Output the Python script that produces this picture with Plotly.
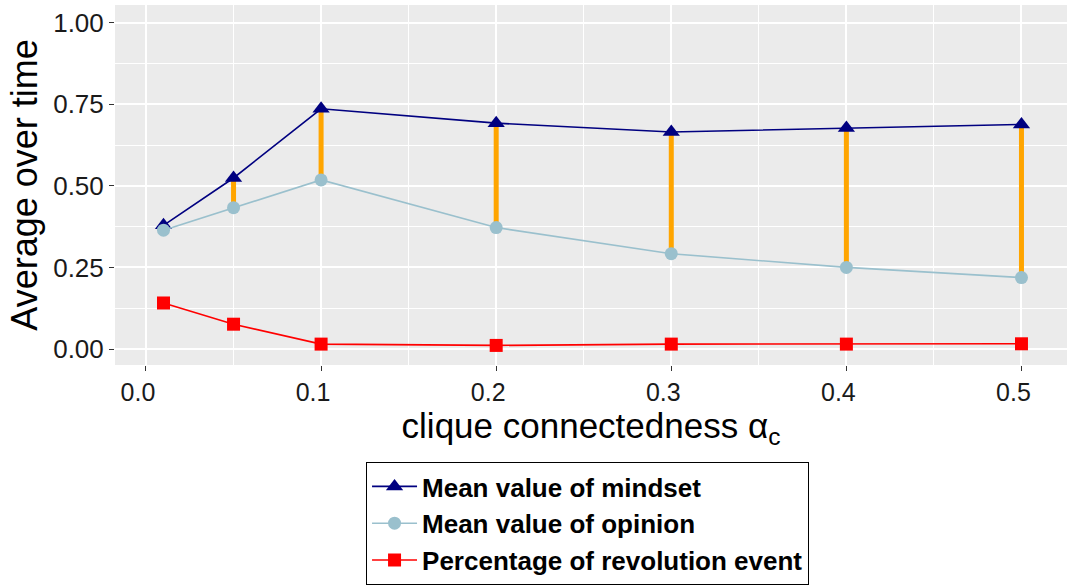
import plotly.graph_objects as go

alpha_c = [0.01, 0.05, 0.1, 0.2, 0.3, 0.4, 0.5]
mindset = [0.379, 0.524, 0.736, 0.692, 0.665, 0.677, 0.688]
opinion = [0.364, 0.433, 0.518, 0.372, 0.292, 0.250, 0.219]
revolution = [0.141, 0.076, 0.015, 0.011, 0.015, 0.015, 0.016]

x_ticks = [0.0, 0.1, 0.2, 0.3, 0.4, 0.5]
y_ticks = [0.0, 0.25, 0.5, 0.75, 1.0]

fig = go.Figure()

# orange gap segments between opinion and mindset
seg_x, seg_y = [], []
for xv, lo, hi in zip(alpha_c, opinion, mindset):
    seg_x += [xv, xv, None]
    seg_y += [lo, hi, None]
fig.add_trace(go.Scatter(x=seg_x, y=seg_y, mode="lines",
                         line=dict(color="#FFA500", width=5),
                         showlegend=False, hoverinfo="skip"))

fig.add_trace(go.Scatter(x=alpha_c, y=mindset, mode="lines+markers",
                         name="<b>Mean value of mindset</b>",
                         line=dict(color="#000080", width=1.6),
                         marker=dict(symbol="triangle-up", size=15, color="#000080")))
fig.add_trace(go.Scatter(x=alpha_c, y=opinion, mode="lines+markers",
                         name="<b>Mean value of opinion</b>",
                         line=dict(color="#9AC0CD", width=1.6),
                         marker=dict(symbol="circle", size=13, color="#9AC0CD")))
fig.add_trace(go.Scatter(x=alpha_c, y=revolution, mode="lines+markers",
                         name="<b>Percentage of revolution event</b>",
                         line=dict(color="#FF0000", width=1.6),
                         marker=dict(symbol="square", size=13, color="#FF0000")))

fig.update_layout(
    width=1067, height=585,
    margin=dict(l=115, r=0, t=5, b=219),
    paper_bgcolor="white",
    plot_bgcolor="#EBEBEB",
    font=dict(family="Liberation Sans, Arial, sans-serif", color="black"),
    legend=dict(
        x=0.2637, y=-0.269, xanchor="left", yanchor="top",
        bgcolor="white", bordercolor="black", borderwidth=1,
        font=dict(size=26, color="black"),
        tracegroupgap=0, itemwidth=45,
    ),
    xaxis=dict(
        range=[-0.0177, 0.526],
        tickvals=x_ticks, tickformat=".1f",
        tickfont=dict(size=25, color="#1a1a1a"),
        ticklabelshift=-8,
        ticks="outside", ticklen=5, tickcolor="#333333", tickwidth=1,
        showgrid=True, gridcolor="white", gridwidth=1.5,
        minor=dict(dtick=0.05, tick0=0.05, showgrid=True, gridcolor="white", gridwidth=0.7, ticks=""),
        zeroline=False, showline=False,
        title=dict(text="clique connectedness α<sub>c</sub>", font=dict(size=35, color="black"), standoff=0),
    ),
    yaxis=dict(
        range=[-0.049, 1.054],
        tickvals=y_ticks, tickformat=".2f",
        tickfont=dict(size=26, color="#1a1a1a"),
        ticks="outside", ticklen=5, tickcolor="#333333", tickwidth=1,
        showgrid=True, gridcolor="white", gridwidth=1.5,
        minor=dict(dtick=0.25, tick0=0.125, showgrid=True, gridcolor="white", gridwidth=0.7, ticks=""),
        zeroline=False, showline=False,
        title=dict(text="Average over time", font=dict(size=36, color="black"), standoff=4),
    ),
)

fig.write_html("out.html")
